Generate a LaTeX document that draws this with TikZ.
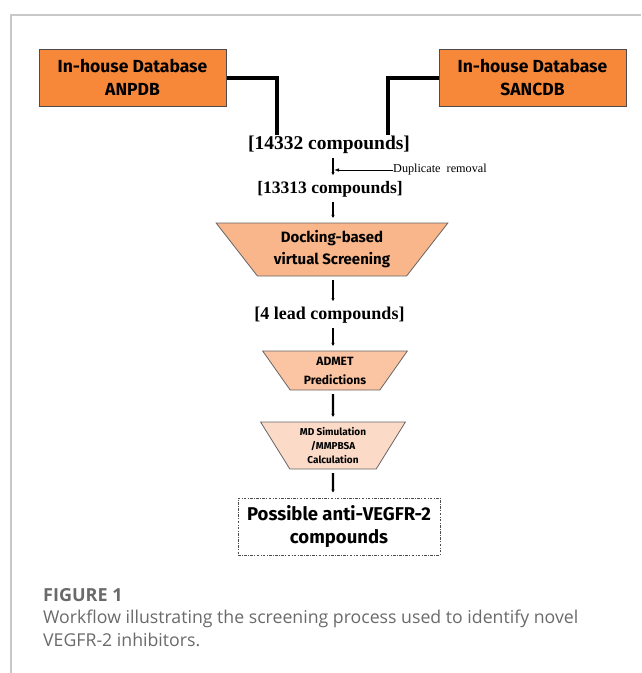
\documentclass[tikz,border=0pt]{standalone}
\usepackage{fontspec}
\setmainfont{Liberation Serif}
\setsansfont{Fira Sans}
\newfontfamily\capfont{Open Sans}
\usetikzlibrary{shapes.geometric,arrows.meta}
\definecolor{dborange}{HTML}{F7883A}
\definecolor{dockorange}{HTML}{F9B68A}
\definecolor{admetorange}{HTML}{FBC4A2}
\definecolor{mdpeach}{HTML}{FBDAC8}
\definecolor{framegray}{HTML}{C8C8C8}
\definecolor{capgray}{HTML}{6A6A6A}
\tikzset{
  dbbox/.style={draw=black!70,line width=1pt,fill=dborange,minimum width=187pt,minimum height=57pt,
    align=center,inner sep=0pt,font=\sffamily\bfseries\fontsize{17.5}{23}\selectfont},
  funnel/.style={trapezium,trapezium stretches=true,draw=black!60,line width=0.8pt,
    align=center,inner sep=0pt,outer sep=0pt,font=\sffamily\bfseries},
  count/.style={inner sep=0pt,text height=13pt,text depth=4pt,font=\bfseries},
  dbline/.style={line width=4pt},
  flow/.style={line width=2.4pt,shorten <=4pt,shorten >=5pt,-{Latex[length=3pt,width=3.6pt]}}
}
\begin{document}
\begin{tikzpicture}[x=1pt,y=-1pt]
  \useasboundingbox (0,0) rectangle (641,673);
  \draw[framegray,line width=1.3pt] (641,15) -- (11,15) -- (11,673); % panel edge
  % the two databases
  \node[dbbox] (anpdb) at (132.5,77.5) {In-house Database\\ANPDB};
  \node[dbbox] (sancdb) at (532.5,77.5) {In-house Database\\SANCDB};
  \coordinate (inl) at (277,135);
  \coordinate (inr) at (388,135);
  \draw[dbline] (anpdb.east) -| (inl);
  \draw[dbline] (sancdb.west) -| (inr);
  % counts and funnels
  \node[count,font=\bfseries\fontsize{19.5}{20}\selectfont] (all) at (329,145) {[14332 compounds]};
  \node[count,font=\bfseries\fontsize{17.5}{20}\selectfont] (unique) at (330,189) {[13313 compounds]};
  \node[funnel,fill=dockorange,minimum width=232pt,minimum height=53pt,
    trapezium left angle=130.6,trapezium right angle=130.6,font=\sffamily\bfseries\fontsize{15}{22}\selectfont]
    (docking) at (332,249.5) {Docking-based\\virtual Screening};
  \node[count,font=\bfseries\fontsize{18}{20}\selectfont] (leads) at (329.5,315) {[4 lead compounds]};
  \node[funnel,fill=admetorange,minimum width=146pt,minimum height=39pt,
    trapezium left angle=124.7,trapezium right angle=124.7,font=\sffamily\bfseries\fontsize{12}{19}\selectfont]
    (admet) at (335,370.5) {ADMET\\Predictions};
  \node[funnel,fill=mdpeach,minimum width=145pt,minimum height=47pt,
    trapezium left angle=121.7,trapezium right angle=121.7,font=\sffamily\bfseries\fontsize{10}{14}\selectfont]
    (md) at (333,445.5) {MD Simulation\\/MMPBSA\\Calculation};
  \node[draw=black!70,line width=0.8pt,dash pattern=on 2.6pt off 1.4pt on 0.8pt off 1.4pt,
    minimum width=202pt,minimum height=57pt,inner sep=0pt,align=center,
    font=\sffamily\bfseries\fontsize{18.5}{23}\selectfont] (final) at (339,526.5) {Possible anti-VEGFR-2\\compounds};
  % flow of the screening
  \draw[flow,line width=2pt] (all.south -| md) -- (unique.north -| md);
  \draw[flow] (unique.south -| md) -- (docking.north -| md);
  \draw[flow] (docking.south -| md) -- (leads.north -| md);
  \draw[flow] (leads.south -| md) -- (admet.north -| md);
  \draw[flow] (admet.south -| md) -- (md.north);
  \draw[flow] (md.south) -- (final.north -| md);
  \node[anchor=west,inner sep=0pt,font=\fontsize{12.2}{13}\selectfont] (dup) at (393,170) {Duplicate\ \ removal};
  \coordinate (dupend) at (334,170);
  \draw[line width=0.8pt,-{Latex[length=5pt,width=3.5pt]}] (dup.west) -- (dupend);
  % caption
  \node[anchor=base west,inner sep=0pt,text=capgray,font=\capfont\bfseries\fontsize{18}{20}\selectfont] (fig) at (43,601) {FIGURE 1};
  \node[anchor=north west,inner sep=0pt,text=capgray,align=left,font=\capfont\fontsize{17.7}{23}\selectfont]
    (cap) at (43,610) {Workflow illustrating the screening process used to identify novel\\VEGFR-2 inhibitors.};
\end{tikzpicture}
\end{document}
